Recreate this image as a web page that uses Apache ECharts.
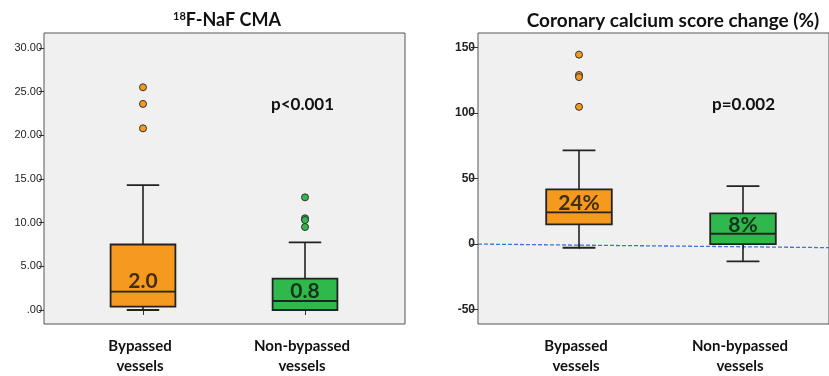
<!DOCTYPE html>
<html><head><meta charset="utf-8">
<script src="https://cdn.jsdelivr.net/npm/echarts@6/dist/echarts.min.js"></script>
<style>html,body{margin:0;padding:0;background:#fff}#c{width:829px;height:376px}</style>
</head><body><div id="c"></div>
<script>
// ---- data ----
const categories = ['Bypassed\nvessels', 'Non-bypassed\nvessels'];
// [lowWhisker, Q1, median, Q3, highWhisker]
const nafBox = [[0, 0.38, 2.1, 7.5, 14.3], [0, 0, 1.03, 3.6, 7.75]];
const nafOutliers = [[25.5, 23.6, 20.8], [12.9, 10.5, 10.3, 9.5]];
const nafMedianLabels = ['2.0', '0.8'];
const nafTicks = [0, 5, 10, 15, 20, 25, 30];

const ccsBox = [[-2.8, 15, 24.2, 41.7, 71.4], [-13.2, 0, 7.9, 23.4, 44.2]];
const ccsOutliers = [[144.4, 128.9, 127.3, 104.6], []];
const ccsMedianLabels = ['24%', '8%'];
const ccsTicks = [-50, 0, 50, 100, 150];
const ccsZeroLine = [[0, 0], [1, -2.7]];

const pLeft = 'p<0.001', pRight = 'p=0.002';
const colors = ['#f5991f', '#2fb84b'];

const FONT = 'Lato, "Open Sans", sans-serif';

function boxData(box) { return box.map((b, i) => [i].concat(b)); }
function outlierData(out) { const r = []; out.forEach((arr, i) => arr.forEach(v => r.push([i, v]))); return r; }
function labelData(box, labels) { return box.map((b, i) => ({ value: [i, b[2]], label: { formatter: labels[i] } })); }

function renderBox(params, api) {
  const x = api.value(0);
  const p = [1, 2, 3, 4, 5].map(k => api.coord([x, api.value(k)]));
  const cx = p[0][0];
  const bw = api.size([1, 0])[0] * 0.40;
  const cap = bw * 0.25;
  const stroke = '#222';
  return {
    type: 'group',
    children: [
      { type: 'line', shape: { x1: cx, y1: p[0][1], x2: cx, y2: p[1][1] }, style: { stroke, lineWidth: 1.6 } },
      { type: 'line', shape: { x1: cx, y1: p[3][1], x2: cx, y2: p[4][1] }, style: { stroke, lineWidth: 1.6 } },
      { type: 'line', shape: { x1: cx - cap, y1: p[0][1], x2: cx + cap, y2: p[0][1] }, style: { stroke, lineWidth: 1.8 } },
      { type: 'line', shape: { x1: cx - cap, y1: p[4][1], x2: cx + cap, y2: p[4][1] }, style: { stroke, lineWidth: 1.8 } },
      { type: 'rect', shape: { x: cx - bw / 2, y: p[3][1], width: bw, height: p[1][1] - p[3][1] }, style: { fill: colors[x], stroke, lineWidth: 1.8 } },
      { type: 'line', shape: { x1: cx - bw / 2, y1: p[2][1], x2: cx + bw / 2, y2: p[2][1] }, style: { stroke, lineWidth: 1.8 } }
    ]
  };
}

const hiddenAxis = (grid, min, max) => ({ type: 'value', gridIndex: grid, show: false, min, max, splitLine: { show: false } });
const catAxis = grid => ({
  type: 'category', gridIndex: grid, data: categories, offset: 14,
  axisLine: { show: false }, axisTick: { show: true, alignWithLabel: true, length: 5, lineStyle: { color: '#333' } },
  axisLabel: { margin: 12, color: '#111', fontFamily: FONT, fontWeight: 'bold', fontSize: 15, lineHeight: 20, padding: [0, 6, 0, 0] }
});

const chart = echarts.init(document.getElementById('c'), null, { renderer: 'canvas' });
chart.setOption({
  animation: false,
  backgroundColor: '#fff',
  title: [
    { text: '{s|18}{b|F-NaF CMA}', left: 222, top: 6, textAlign: 'center',
      textStyle: { rich: { s: { fontSize: 11, fontWeight: 'bold', fontFamily: FONT, color: '#111', verticalAlign: 'top', padding: [0, 0, 8, 0] }, b: { fontSize: 18, fontWeight: 'bold', fontFamily: FONT, color: '#111' } } } },
    { text: 'Coronary calcium score change (%)', left: 668, top: 6, textAlign: 'center',
      textStyle: { fontSize: 19, fontWeight: 'bold', fontFamily: FONT, color: '#111' } }
  ],
  grid: [
    { left: 44, top: 33, width: 361, height: 291, show: true, backgroundColor: '#f0f0f0', borderColor: '#555', borderWidth: 1 },
    { left: 62, top: 48, width: 324, height: 262 },
    { left: 478, top: 33, width: 366, height: 291, show: true, backgroundColor: '#f0f0f0', borderColor: '#555', borderWidth: 1 },
    { left: 497, top: 47.3, width: 328, height: 262.4 }
  ],
  xAxis: [hiddenAxis(0, 0, 1), catAxis(1), hiddenAxis(2, 0, 1), catAxis(3)],
  yAxis: [
    hiddenAxis(0, 0, 1),
    { type: 'value', gridIndex: 1, min: nafTicks[0], max: nafTicks[nafTicks.length - 1], interval: 5, offset: 18,
      axisLine: { show: false }, axisTick: { show: true, length: 5, lineStyle: { color: '#333' } }, splitLine: { show: false },
      axisLabel: { margin: 2, fontSize: 11, color: '#222', fontFamily: 'Liberation Sans, Arial, sans-serif',
        formatter: v => v === 0 ? '.00' : v.toFixed(2) } },
    hiddenAxis(2, -60.9, 160.9),
    { type: 'value', gridIndex: 3, min: ccsTicks[0], max: ccsTicks[ccsTicks.length - 1], interval: 50, offset: 19,
      axisLine: { show: false }, axisTick: { show: true, length: 7, lineStyle: { color: '#333' } }, splitLine: { show: false },
      axisLabel: { margin: 3, fontSize: 12, color: '#222', fontFamily: 'Liberation Sans, Arial, sans-serif', fontWeight: 'bold' } }
  ],
  series: [
    { type: 'line', xAxisIndex: 2, yAxisIndex: 2, data: ccsZeroLine, symbol: 'none', z: 1,
      lineStyle: { color: '#3f73d8', width: 1.3, type: [4, 2] } },
    { type: 'custom', xAxisIndex: 1, yAxisIndex: 1, data: boxData(nafBox), renderItem: renderBox, encode: { x: 0, y: [1, 2, 3, 4, 5] }, z: 2 },
    { type: 'custom', xAxisIndex: 3, yAxisIndex: 3, data: boxData(ccsBox), renderItem: renderBox, encode: { x: 0, y: [1, 2, 3, 4, 5] }, z: 3 },
    { type: 'scatter', xAxisIndex: 1, yAxisIndex: 1, data: outlierData(nafOutliers), symbolSize: 7,
      itemStyle: { color: p => colors[p.value[0]], borderColor: '#333', borderWidth: 1, opacity: 1 } },
    { type: 'scatter', xAxisIndex: 3, yAxisIndex: 3, data: outlierData(ccsOutliers), symbolSize: 7,
      itemStyle: { color: p => colors[p.value[0]], borderColor: '#333', borderWidth: 1, opacity: 1 } },
    { type: 'scatter', xAxisIndex: 1, yAxisIndex: 1, data: labelData(nafBox, nafMedianLabels), symbolSize: 0, z: 5,
      label: { show: true, position: 'inside', offset: [0, -10], fontSize: 21, fontWeight: 'bold', fontFamily: FONT, color: '#111' } },
    { type: 'scatter', xAxisIndex: 3, yAxisIndex: 3, data: labelData(ccsBox, ccsMedianLabels), symbolSize: 0, z: 5,
      label: { show: true, position: 'inside', offset: [0, -9], fontSize: 21, fontWeight: 'bold', fontFamily: FONT, color: '#111' } }
  ],
  graphic: [
    { type: 'text', left: 271, top: 96, z: 10, style: { text: pLeft, font: 'bold 17px ' + FONT, fill: '#111' } },
    { type: 'text', left: 712, top: 96, z: 10, style: { text: pRight, font: 'bold 17px ' + FONT, fill: '#111' } }
  ]
});
</script></body></html>
